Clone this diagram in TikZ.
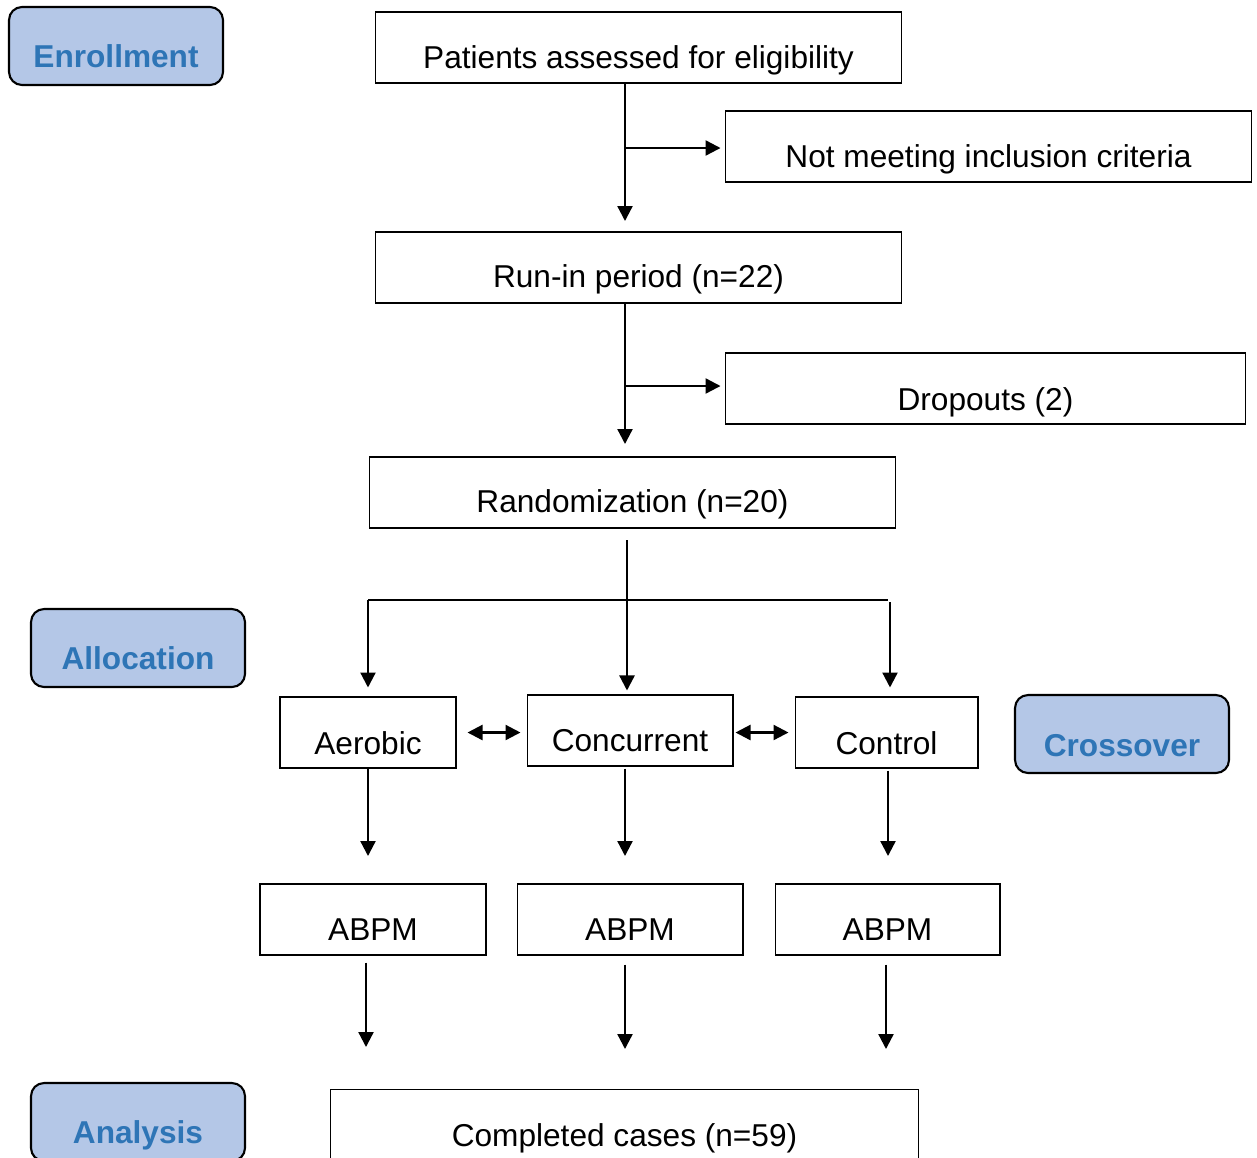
\documentclass[tikz,border=0pt]{standalone}
\usepackage{fontspec}
\setmainfont{Liberation Sans}
\usetikzlibrary{arrows.meta}
\definecolor{phasefill}{HTML}{B4C7E7}
\definecolor{phasetext}{HTML}{2E75B6}
\begin{document}
\begin{tikzpicture}[x=0.02cm,y=-0.02cm,
  box/.style={draw, line width=0.6pt, minimum height=1.42cm, inner sep=0pt},
  phase/.style={draw, line width=1.2pt, fill=phasefill, rounded corners=0.26cm,
    minimum width=4.28cm, minimum height=1.56cm, inner sep=0pt},
  txt/.style={anchor=base, inner sep=0pt, font=\fontsize{18}{20}\selectfont},
  ptxt/.style={anchor=base, inner sep=0pt, text=phasetext, font=\fontsize{18}{20}\selectfont\bfseries},
  arr/.style={line width=1.3pt, -{Triangle[length=0.3cm,width=0.3cm]}},
  darr/.style={line width=1.3pt, {Triangle[length=0.3cm,width=0.3cm]}-{Triangle[length=0.3cm,width=0.3cm]}},
  ln/.style={line width=1.3pt}]
\useasboundingbox (0,0) rectangle (1257,1157);
\clip (0,0) rectangle (1257,1157);

% phase labels
\node[phase] (enroll) at (116,46) {};
\node[ptxt] (enrollT) at (116,67) {Enrollment};
\node[phase] (alloc) at (138,648) {};
\node[ptxt] (allocT) at (138,669) {Allocation};
\node[phase] (cross) at (1122,734) {};
\node[ptxt] (crossT) at (1122,756) {Crossover};
\node[phase] (anal) at (138,1122) {};
\node[ptxt] (analT) at (138,1143) {Analysis};

% boxes
\node[box, minimum width=10.54cm] (pat) at (638.5,47.5) {};
\node[txt] (patT) at (638.5,68) {Patients assessed for eligibility};
\node[box, minimum width=10.54cm] (notm) at (988.5,146.5) {};
\node[txt] (notmT) at (988.5,167) {Not meeting inclusion criteria};
\node[box, minimum width=10.54cm] (run) at (638.5,267.5) {};
\node[txt] (runT) at (638.5,287) {Run-in period (n=22)};
\node[box, minimum width=10.42cm] (drop) at (985.5,388.5) {};
\node[txt] (dropT) at (985.5,410) {Dropouts (2)};
\node[box, minimum width=10.54cm] (rand) at (632.5,492.5) {};
\node[txt] (randT) at (632.5,512) {Randomization (n=20)};

\node[box, minimum width=3.52cm] (aer) at (368,732.5) {};
\node[txt] (aerT) at (368,754) {Aerobic};
\node[box, minimum width=4.12cm] (conc) at (630,730.5) {};
\node[txt] (concT) at (630,751) {Concurrent};
\node[box, minimum width=3.66cm] (ctrl) at (886.5,732.5) {};
\node[txt] (ctrlT) at (886.5,754) {Control};

\node[box, minimum width=4.52cm] (ab1) at (373,919.5) {};
\node[txt] (ab1T) at (373,940) {ABPM};
\node[box, minimum width=4.52cm] (ab2) at (630,919.5) {};
\node[txt] (ab2T) at (630,940) {ABPM};
\node[box, minimum width=4.50cm] (ab3) at (887.5,919.5) {};
\node[txt] (ab3T) at (887.5,940) {ABPM};

\node[box, minimum width=11.78cm] (comp) at (624.5,1124.5) {};
\node[txt] (compT) at (624.5,1146) {Completed cases (n=59)};

% connectors
\coordinate (e1) at (625,221);
\draw[arr] (pat.south -| e1) -- (e1);
\coordinate (b1) at (625,148);
\draw[arr, shorten >=0.08cm] (b1) -- (notm.west |- b1);

\coordinate (e2) at (625,444);
\draw[arr] (run.south -| e2) -- (e2);
\coordinate (b2) at (625,386);
\draw[arr, shorten >=0.08cm] (b2) -- (drop.west |- b2);

\coordinate (r1) at (627,540);
\draw[arr, shorten >=0.08cm] (r1) -- (conc.north -| r1);
\coordinate (hl) at (368,600);
\coordinate (hr) at (888,600);
\draw[line width=0.9pt] (hl) -- (hr);
\draw[arr, shorten >=0.18cm] (hl) -- (aer.north);
\coordinate (hr2) at (890,602);
\draw[arr, shorten >=0.18cm] (hr2) -- (ctrl.north -| hr2);

\draw[darr, shorten <=0.22cm, shorten >=0.12cm] (aer.east) -- (conc.west |- aer.east);
\draw[darr, shorten <=0.04cm, shorten >=0.12cm] (conc.east |- aer.east) -- (ctrl.west);

\coordinate (d1) at (368,856);
\draw[arr] (aer.south) -- (d1);
\coordinate (d2) at (625,856);
\draw[arr, shorten <=0.04cm] (conc.south -| d2) -- (d2);
\coordinate (d3) at (888,856);
\draw[arr, shorten <=0.04cm] (ctrl.south -| d3) -- (d3);

\coordinate (f1) at (366,1047);
\draw[arr, shorten <=0.14cm] (ab1.south -| f1) -- (f1);
\coordinate (f2) at (625,1049);
\draw[arr, shorten <=0.18cm] (ab2.south -| f2) -- (f2);
\coordinate (f3) at (886,1049);
\draw[arr, shorten <=0.18cm] (ab3.south -| f3) -- (f3);
\end{tikzpicture}
\end{document}
